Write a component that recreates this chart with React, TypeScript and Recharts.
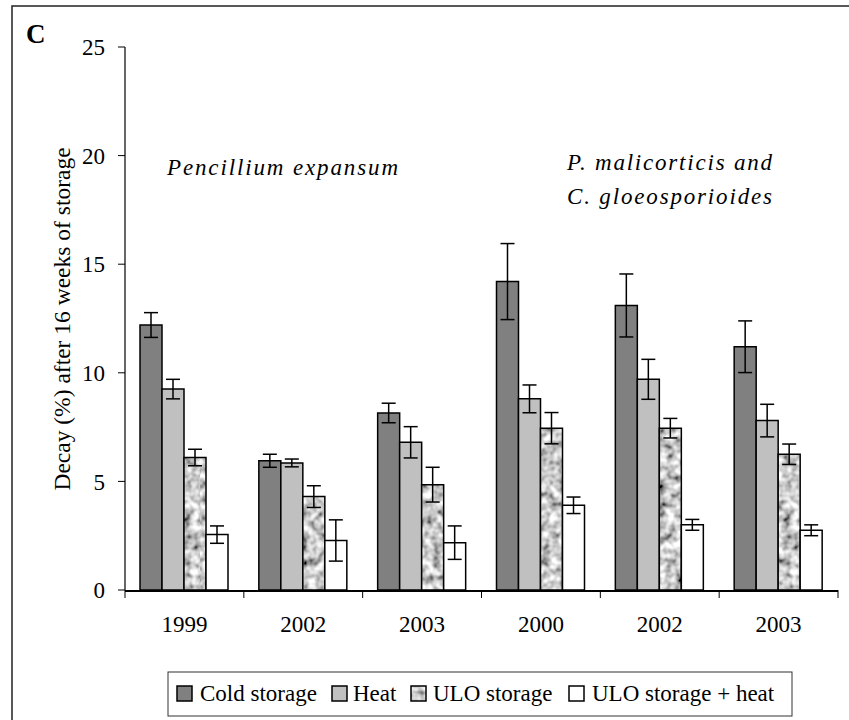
import React from 'react';
import { BarChart, Bar, XAxis, YAxis, ErrorBar } from 'recharts';

const categories = ['1999', '2002', '2003', '2000', '2002', '2003'];
const coldStorage = [12.2, 5.95, 8.15, 14.2, 13.1, 11.2];
const coldStorageErr = [0.57, 0.3, 0.45, 1.75, 1.45, 1.19];
const heat = [9.25, 5.85, 6.8, 8.8, 9.7, 7.8];
const heatErr = [0.45, 0.18, 0.72, 0.64, 0.92, 0.75];
const uloStorage = [6.1, 4.3, 4.85, 7.45, 7.45, 6.25];
const uloStorageErr = [0.38, 0.5, 0.8, 0.72, 0.45, 0.47];
const uloHeat = [2.55, 2.28, 2.18, 3.9, 3.0, 2.75];
const uloHeatErr = [0.4, 0.95, 0.77, 0.38, 0.25, 0.25];
const yTicks = [0, 5, 10, 15, 20, 25];
const seriesNames = ['Cold storage', 'Heat', 'ULO storage', 'ULO storage + heat'];

const data = categories.map((cat, i) => ({
  cat,
  cold: coldStorage[i],
  coldErr: coldStorageErr[i],
  heat: heat[i],
  heatErr: heatErr[i],
  ulo: uloStorage[i],
  uloErr: uloStorageErr[i],
  uloHeat: uloHeat[i],
  uloHeatErr: uloHeatErr[i],
}));

const FONT = 'Liberation Serif';
const fills = ['#808080', '#c0c0c0', 'url(#uloTex)', '#ffffff'];

const CHART_W = 849;
const CHART_H = 720;
const MARGIN = { top: 47, right: 11, bottom: 90, left: 65 };
const Y_AXIS_W = 60;
const X_AXIS_H = 40;
const PLOT_LEFT = MARGIN.left + Y_AXIS_W;
const PLOT_RIGHT = CHART_W - MARGIN.right;
const PLOT_BOTTOM = CHART_H - MARGIN.bottom - X_AXIS_H;
const BAND = (PLOT_RIGHT - PLOT_LEFT) / categories.length;
const boundaryIdx = Array.from({ length: categories.length + 1 }, (_, i) => i);

const legendSquares = [177, 332, 411, 569];
const legendTexts = [200, 353, 433, 592];

const LABEL_MARGIN = 26;

export default function App() {
  return (
    <div style={{ position: 'absolute', left: 0, top: 0, width: CHART_W, height: CHART_H, background: '#fff' }}>
      <BarChart
        width={CHART_W}
        height={CHART_H}
        data={data}
        margin={MARGIN}
        barGap={0}
        barSize={22}
      >
        <defs>
          <filter id="uloNoise" x="0" y="0" width="100%" height="100%" filterUnits="objectBoundingBox">
            <feTurbulence type="fractalNoise" baseFrequency="0.12" numOctaves="2" seed="4" result="n" />
            <feColorMatrix
              in="n"
              type="matrix"
              values="1.7 0 0 0 -0.25  1.7 0 0 0 -0.25  1.7 0 0 0 -0.25  0 0 0 0 1"
            />
          </filter>
          <pattern id="uloTex" patternUnits="userSpaceOnUse" x="0" y="0" width="200" height="720">
            <rect x="0" y="0" width="200" height="720" fill="#a0a0a0" filter="url(#uloNoise)" />
          </pattern>
        </defs>
        <XAxis
          dataKey="cat"
          height={X_AXIS_H}
          axisLine={false}
          tickLine={false}
          tickSize={0}
          tickMargin={LABEL_MARGIN}
          interval={0}
          tick={{ fill: '#000', fontSize: 23, fontFamily: FONT }}
        />
        <YAxis
          width={Y_AXIS_W}
          domain={[0, 25]}
          ticks={yTicks}
          tickSize={7}
          tickMargin={13}
          axisLine={{ stroke: '#000', strokeWidth: 1.2 }}
          tickLine={{ stroke: '#000', strokeWidth: 1 }}
          tick={{ fill: '#000', fontSize: 23, fontFamily: FONT }}
        />
        <Bar dataKey="cold" fill={fills[0]} stroke="#000" strokeWidth={1.5} isAnimationActive={false}>
          <ErrorBar dataKey="coldErr" width={7} stroke="#000" strokeWidth={1.5} direction="y" />
        </Bar>
        <Bar dataKey="heat" fill={fills[1]} stroke="#000" strokeWidth={1.5} isAnimationActive={false}>
          <ErrorBar dataKey="heatErr" width={7} stroke="#000" strokeWidth={1.5} direction="y" />
        </Bar>
        <Bar dataKey="ulo" fill={fills[2]} stroke="#000" strokeWidth={1.5} isAnimationActive={false}>
          <ErrorBar dataKey="uloErr" width={7} stroke="#000" strokeWidth={1.5} direction="y" />
        </Bar>
        <Bar dataKey="uloHeat" fill={fills[3]} stroke="#000" strokeWidth={1.5} isAnimationActive={false}>
          <ErrorBar dataKey="uloHeatErr" width={7} stroke="#000" strokeWidth={1.5} direction="y" />
        </Bar>
      </BarChart>
      <svg
        width={CHART_W}
        height={CHART_H}
        style={{ position: 'absolute', left: 0, top: 0, pointerEvents: 'none' }}
      >
        <line x1={PLOT_LEFT} x2={PLOT_RIGHT} y1={PLOT_BOTTOM + 1} y2={PLOT_BOTTOM + 1} stroke="#000" strokeWidth={2} />
        {boundaryIdx.map((i) => (
          <line
            key={`t${i}`}
            x1={PLOT_LEFT + i * BAND}
            x2={PLOT_LEFT + i * BAND}
            y1={PLOT_BOTTOM}
            y2={PLOT_BOTTOM + 8}
            stroke="#000"
            strokeWidth={1}
          />
        ))}
        <rect x={12} y={6} width={900} height={800} fill="none" stroke="#222" strokeWidth={1.5} />
        <text x={26} y={43} fontFamily={FONT} fontWeight="bold" fontSize={27} fill="#000">C</text>
        <text
          x={62}
          y={319}
          transform="rotate(-90 62 319)"
          textAnchor="middle"
          dominantBaseline="central"
          fontFamily={FONT}
          fontSize={23.5}
          fill="#000"
        >
          Decay (%) after 16 weeks of storage
        </text>
        <text x={167} y={175} fontFamily={FONT} fontStyle="italic" fontSize={23} fill="#000" textLength={231} lengthAdjust="spacing">
          Pencillium expansum
        </text>
        <text x={567} y={170} fontFamily={FONT} fontStyle="italic" fontSize={23} fill="#000" textLength={205} lengthAdjust="spacing">
          P. malicorticis and
        </text>
        <text x={567} y={204} fontFamily={FONT} fontStyle="italic" fontSize={23} fill="#000" textLength={205} lengthAdjust="spacing">
          C. gloeosporioides
        </text>
        <rect x={168} y={672} width={624} height={44} fill="#fff" stroke="#333" strokeWidth={1} />
        {seriesNames.map((name, i) => (
          <g key={name}>
            <rect x={legendSquares[i]} y={686} width={15} height={15} fill={fills[i]} stroke="#000" strokeWidth={1.5} />
            <text x={legendTexts[i]} y={701} fontFamily={FONT} fontSize={23} fill="#000">
              {name}
            </text>
          </g>
        ))}
      </svg>
    </div>
  );
}
